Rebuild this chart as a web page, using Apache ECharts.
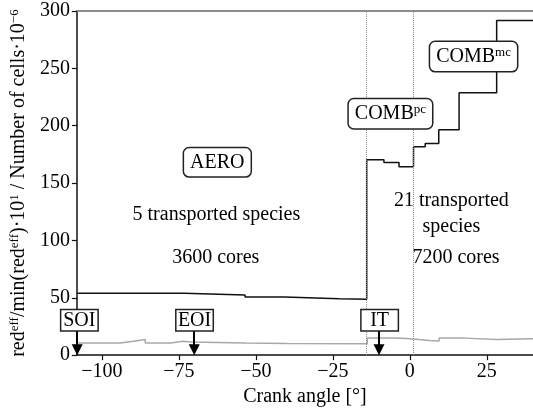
<!DOCTYPE html>
<html><head><meta charset="utf-8">
<script src="https://cdn.jsdelivr.net/npm/echarts@6/dist/echarts.min.js"></script>
<style>html,body{margin:0;padding:0;background:#fff}#c{width:533px;height:412px}</style>
</head><body><div id="c"></div>
<script>
// reduction ratio ·10 (black) — step values, each holding from its x to the next x
const blackX = [-108.1, -73.3, -53.5, -40.6, -30.6, -22.9, -14.0, -8.4, -3.5, 1.2, 5.0, 9.4, 16.0, 28.2, 40];
const blackY = [54.0, 52.5, 50.6, 49.8, 49.2, 48.6, 170.4, 168.0, 164.3, 181.6, 184.5, 196.4, 228.8, 291.7, 291.7];
// number of cells ·10^-6 (grey)
const greyX = [-108.1, -94.0, -89.8, -85.9, -77.6, -73.7, -71.0, -53.3, -40.0, -13.8, -5.0, -1.0, 3.0, 6.5, 9.5, 17.9, 28.1, 40];
const greyY = [10.5, 12.0, 13.5, 10.5, 12.0, 11.5, 10.5, 10.2, 10.0, 15.0, 14.5, 13.5, 12.8, 12.3, 14.8, 13.6, 14.2, 14.2];
const xTicks = [-100, -75, -50, -25, 0, 25];
const yTicks = [0, 50, 100, 150, 200, 250, 300];
const phaseBoundaries = [-14.0, 1.2];
const eventNames = ['SOI', 'EOI', 'IT'];
const eventX = [-108.0, -70.0, -10.0];
const eventLabelX = [-107.3, -69.9, -9.8];
const eventLabelY = [30.3, 30.3, 30.3];
const eventArrowTop = [21, 21, 21];
const eventArrowTip = [0, 0, 0];
const phaseNames = ['AERO', 'COMB{s|pc}', 'COMB{s|mc}'];
const phaseX = [-62.5, -6.3, 20.7];
const phaseY = [168.1, 210.4, 260.3];
const noteTexts = ['5 transported species', '3600 cores', '21 transported\nspecies', '7200 cores'];
const noteX = [-62.8, -63.0, 13.5, 15.0];
const noteY = [122.5, 85.0, 123.6, 85.0];

const FONT = 'Liberation Serif';
const TXT = '#000';
const pairs = (xs, ys) => xs.map((x, i) => [x, ys[i]]);
const minus = v => String(v).replace('-', '\u2212');
const arrowTipOffset = 4.6; // half symbol height in data units

const chart = echarts.init(document.getElementById('c'), null, {renderer: 'canvas'});
chart.setOption({
  animation: false,
  textStyle: {fontFamily: FONT},
  grid: {left: 75.5, right: -2, top: 11, bottom: 54.5},
  xAxis: [{
    type: 'value', min: -108.1, max: 40, position: 'bottom',
    name: 'Crank angle [°]', nameLocation: 'middle', nameGap: 29,
    nameTextStyle: {fontFamily: FONT, fontSize: 20, color: TXT},
    axisLine: {show: true, onZero: false, lineStyle: {color: '#111', width: 1.5}},
    axisTick: {show: true, length: 5, customValues: xTicks, lineStyle: {color: '#111', width: 1.2}},
    axisLabel: {customValues: xTicks, margin: 7, fontFamily: FONT, fontSize: 20, color: TXT, formatter: minus},
    splitLine: {show: false}
  }, {
    type: 'value', min: -108.1, max: 40, position: 'top',
    axisLine: {show: true, onZero: false, lineStyle: {color: '#8c8c8c', width: 2}},
    axisTick: {show: false}, axisLabel: {show: false}, splitLine: {show: false}
  }],
  yAxis: {
    type: 'value', min: 0, max: 300, interval: 50,
    name: '{n|red}{s|eff}{n|/min(red}{s|eff}{n|)·10}{s|1}{n| / Number of cells·10}{s|\u22126}',
    nameLocation: 'middle', nameGap: 33,
    nameTextStyle: {
      rich: {
        n: {fontFamily: FONT, fontSize: 20, color: TXT, verticalAlign: 'bottom'},
        s: {fontFamily: FONT, fontSize: 13, color: TXT, verticalAlign: 'bottom', padding: [0, 0, 8, 0]}
      }
    },
    axisLine: {show: true, onZero: false, lineStyle: {color: '#111', width: 1.5}},
    axisTick: {show: true, length: 5, lineStyle: {color: '#111', width: 1.2}},
    axisLabel: {margin: 7, fontFamily: FONT, fontSize: 20, color: TXT},
    splitLine: {show: false}
  },
  series: [{
    type: 'line', step: 'end', data: pairs(greyX, greyY), symbol: 'none',
    lineStyle: {color: '#a8a8a8', width: 1.5}, z: 2,
    markLine: {
      silent: true, symbol: ['none', 'none'], label: {show: false},
      lineStyle: {type: 'dotted', color: '#8a8a8a', width: 1},
      data: phaseBoundaries.map(x => ({xAxis: x}))
    }
  }, {
    type: 'line', step: 'end', data: pairs(blackX, blackY), symbol: 'none',
    lineStyle: {color: '#111', width: 1.5}, z: 3,
    markLine: {
      silent: true, symbol: ['none', 'triangle'], symbolSize: 11, label: {show: false},
      lineStyle: {type: 'solid', color: '#000', width: 2},
      data: eventX.map((x, i) => [{coord: [x, eventArrowTop[i]]}, {coord: [x, eventArrowTip[i] + arrowTipOffset]}])
    }
  }, {
    type: 'scatter', symbolSize: 0, z: 5, silent: true, itemStyle: {opacity: 1},
    data: phaseX.map((x, i) => ({value: [x, phaseY[i]], label: {formatter: phaseNames[i]}})),
    label: {
      show: true, position: 'inside', fontFamily: FONT, fontSize: 20, color: TXT,
      backgroundColor: '#fff', borderColor: '#222', borderWidth: 1.5, borderRadius: 5,
      padding: [4, 6],
      rich: {
        s: {fontFamily: FONT, fontSize: 13, color: TXT, verticalAlign: 'bottom', padding: [0, 0, 8, 0]}
      }
    }
  }, {
    type: 'scatter', symbolSize: 0, z: 5, silent: true, itemStyle: {opacity: 1},
    data: eventLabelX.map((x, i) => ({value: [x, eventLabelY[i]], label: {formatter: eventNames[i]}})),
    label: {
      show: true, position: 'inside', fontFamily: FONT, fontSize: 20, color: TXT,
      backgroundColor: '#fff', borderColor: '#222', borderWidth: 1.5, borderRadius: 0,
      width: 32, align: 'center', padding: [0, 2], lineHeight: 20
    }
  }, {
    type: 'scatter', symbolSize: 0, z: 4, silent: true, itemStyle: {opacity: 1},
    data: noteX.map((x, i) => ({value: [x, noteY[i]], label: {formatter: noteTexts[i]}})),
    label: {show: true, position: 'inside', fontFamily: FONT, fontSize: 20, color: TXT, lineHeight: 26, align: 'center'}
  }]
});
</script>
</body></html>
